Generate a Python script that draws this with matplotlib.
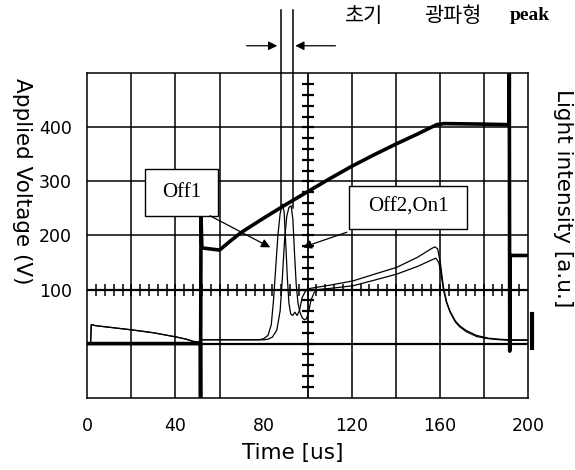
import numpy as np
import matplotlib.pyplot as plt
from matplotlib.patches import Rectangle

# Applied voltage trace (time in us, voltage in V)
volt_t = [0, 51.3, 51.4, 51.6, 52.0, 56, 60, 65, 70, 80, 90, 100, 110, 120,
          130, 140, 150, 158.5, 162, 180, 191.4, 191.5, 191.7, 191.9, 200]
volt_v = [0, 0, -100, 235, 177, 175, 173, 190, 206, 232, 257, 281, 305, 328,
          349, 369, 388, 405, 407, 406, 405, 500, -14, 163, 163]

# Light intensity, common part before the discharge (same V-scale units)
base_t = [0, 1.5, 1.8, 4, 20.9, 30, 40.6, 45, 48, 51.5, 51.6, 51.8, 60, 70, 78]
base_v = [0, 0, 35, 33, 25, 20, 12, 8, 4, 3, 30, 7, 7, 7, 7]

# Off1: earlier light peak
off1_t = base_t + [80, 82, 83.5, 84.5, 85.5, 86.5, 87.5, 88.5, 89.3, 90, 90.8, 91.5,
                   92.3, 93.2, 94.2, 95.2, 96.2, 97.5, 99, 101, 104, 110, 120.6, 130,
                   140.4, 150, 156.3, 157.8, 159, 160.2, 161.6, 163, 164.6, 167, 169,
                   172, 176.7, 182, 187.3, 191.5, 200]
off1_v = base_v + [9, 15, 35, 80, 140, 200, 240, 258, 245, 190, 120, 75,
                   55, 52, 58, 52, 60, 85, 97, 102, 104, 108, 116, 128,
                   141, 160, 176, 179, 175, 150, 105, 78, 60, 42, 33,
                   24, 15, 10, 8, 7, 7]

# Off2,On1: later light peak
off2_t = base_t + [80, 82, 84, 86, 87.5, 88.5, 89.5, 90.5, 91.5, 92.5, 93.3, 94,
                   94.8, 95.6, 96.5, 97.5, 98.5, 99.5, 100.5, 101.5, 103, 105, 110,
                   120.6, 130, 140.4, 150, 157, 158.2, 159.5, 160.5, 161.6, 163,
                   164.6, 167, 169, 172, 176.7, 182, 187.3, 191.5, 200]
off2_v = base_v + [7, 8, 12, 25, 60, 120, 190, 235, 252, 255, 230, 170,
                   110, 75, 58, 48, 44, 46, 60, 80, 95, 100, 102,
                   107, 117, 128.5, 143, 156, 158, 150, 130, 100, 76,
                   58, 40, 31, 22, 13, 9, 7, 6, 6]

x_ticks = [0, 40, 80, 120, 160, 200]
y_ticks = [100, 200, 300, 400]
grid_x = [20, 40, 60, 120, 140, 160, 180]   # the 80 us line is not drawn
grid_y = [0, 200, 300, 400]
peak_marks = [87.9, 93.3]

fig = plt.figure(figsize=(5.75, 4.7), dpi=100)
ax = fig.add_axes([0.1518, 0.154, 0.7665, 0.690])
ax.set_xlim(0, 200)
ax.set_ylim(-100, 500)

# graticule
for gx in grid_x:
    ax.axvline(gx, color="k", lw=1.1, zorder=1)
for gy in grid_y:
    ax.axhline(gy, color="k", lw=1.1 if gy else 1.6, zorder=1)
ax.axvline(100, color="k", lw=1.3, zorder=1)
ax.axhline(100, color="k", lw=1.6, zorder=1)
tx = np.arange(4, 200, 4)
ax.plot(tx, np.full(len(tx), 100), ls="none", marker="|", ms=8, mew=1.1, color="k", zorder=1)
ty = np.arange(-80, 500, 20)
ax.plot(np.full(len(ty), 100), ty, ls="none", marker="_", ms=9, mew=1.6, color="k", zorder=1)

# traces
ax.plot(off1_t, off1_v, color="k", lw=0.9, zorder=2)
ax.plot(off2_t, off2_v, color="k", lw=0.9, zorder=2)
ax.plot(volt_t, volt_v, color="k", lw=2.6, zorder=3)

# little channel marker on the right edge
ax.plot([201.8, 201.8], [-8, 55], color="k", lw=3, clip_on=False)

# label boxes
ax.add_patch(Rectangle((26.2, 236.5), 33.1, 87, fc="white", ec="k", lw=1, zorder=4))
ax.text(42.7, 280, "Off1", family="Liberation Serif", fontsize=15, ha="center", va="center", zorder=5)
ax.add_patch(Rectangle((118.8, 212.4), 53.5, 79.6, fc="white", ec="k", lw=1, zorder=4))
ax.text(145.5, 252, "Off2,On1", family="Liberation Serif", fontsize=15, ha="center", va="center", zorder=5)

arrow = dict(arrowstyle="-|>", color="k", lw=0.9, mutation_scale=13, shrinkA=0, shrinkB=0)
ax.annotate("", xy=(83.0, 178), xytext=(55.7, 236.5), arrowprops=arrow, zorder=5)
ax.annotate("", xy=(97.8, 178), xytext=(117.8, 206), arrowprops=arrow, zorder=5)

# initial light peak markers above the plot
for px in peak_marks:
    ax.plot([px, px], [250, 618], color="k", lw=1.1, clip_on=False, zorder=3)
ax.annotate("", xy=(86.2, 551), xytext=(72.3, 551), arrowprops=arrow, annotation_clip=False)
ax.annotate("", xy=(94.4, 551), xytext=(112.6, 551), arrowprops=arrow, annotation_clip=False)
kr = ["Noto Sans CJK KR", "DejaVu Sans"]
fig.text(364 / 575, 1 - 16 / 470, "초기", family=kr, fontsize=15, fontweight="medium",
         ha="center", va="center")
fig.text(453 / 575, 1 - 16 / 470, "광파형", family=kr, fontsize=15, fontweight="medium",
         ha="center", va="center")
fig.text(530 / 575, 1 - 16 / 470, "peak", family="Liberation Serif", fontsize=14,
         fontweight="bold", ha="center", va="center")

# axes, ticks and labels
for s in ax.spines.values():
    s.set_linewidth(1.1)
ax.set_xticks(x_ticks)
ax.set_yticks(y_ticks)
ax.tick_params(length=0, labelsize=12.5)
ax.tick_params(axis="x", pad=14)
ax.tick_params(axis="y", pad=11)
fig.text(293 / 575, 1 - 453 / 470, "Time [us]", fontsize=15.5, ha="center", va="center")
fig.text(22 / 575, 1 - 181 / 470, "Applied Voltage (V)", fontsize=15.5, rotation=-90,
         ha="center", va="center")
fig.text(563 / 575, 1 - 198 / 470, "Light intensity [a.u.]", fontsize=15.5, rotation=-90,
         ha="center", va="center")

fig.savefig("out.png", dpi=100)
